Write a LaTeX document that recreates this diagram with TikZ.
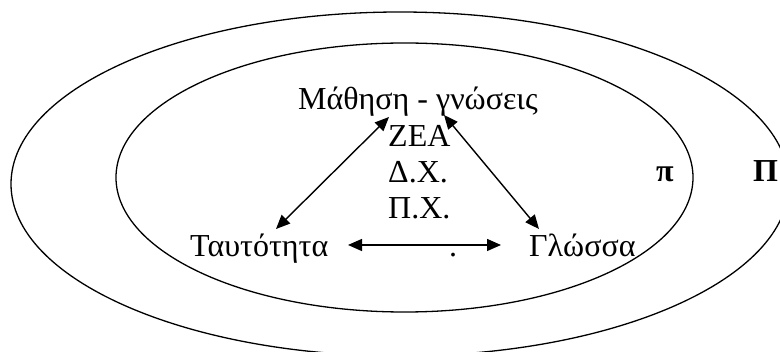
\documentclass[tikz,border=0pt]{standalone}
\usepackage{fontspec}
\setmainfont{Liberation Serif}
\usetikzlibrary{arrows.meta}
\begin{document}
\begin{tikzpicture}[x=1pt,y=-1pt,
  ring/.style={line width=1.3pt},
  lbl/.style={inner sep=0pt,anchor=base west,font=\fontsize{32}{36}\selectfont},
  blbl/.style={lbl,font=\fontsize{32}{36}\selectfont\bfseries},
  link/.style={line width=1.4pt,{Triangle[length=14pt,width=12pt]}-{Triangle[length=14pt,width=12pt]}}]
\useasboundingbox (0,0) rectangle (780,352);
\draw[ring] (400,184) ellipse [x radius=389, y radius=172];
\draw[ring] (404.5,177.5) ellipse [x radius=288.5, y radius=134.5];
\node[lbl] (M) at (298,110) {Μάθηση - γνώσεις};
\node[lbl] (Z) at (388,147) {ΖΕΑ};
\node[lbl] (D) at (388,183) {Δ.Χ.};
\node[lbl] (P) at (388,219) {Π.Χ.};
\node[lbl] (T) at (190,257) {Ταυτότητα};
\node[lbl] (G) at (529,257) {Γλώσσα};
\node[lbl] (dot) at (449,257) {.};
\node[blbl] (pi) at (656,182) {π};
\node[blbl] (PI) at (753,182) {Π};
\coordinate (m1) at (389,117);
\coordinate (t1) at (276,229);
\coordinate (m2) at (444,115);
\coordinate (g1) at (539,229);
\coordinate (t2) at (348,245);
\coordinate (g2) at (501,245);
\draw[link] (m1) -- (t1);
\draw[link] (m2) -- (g1);
\draw[link] (t2) -- (g2);
\end{tikzpicture}
\end{document}
